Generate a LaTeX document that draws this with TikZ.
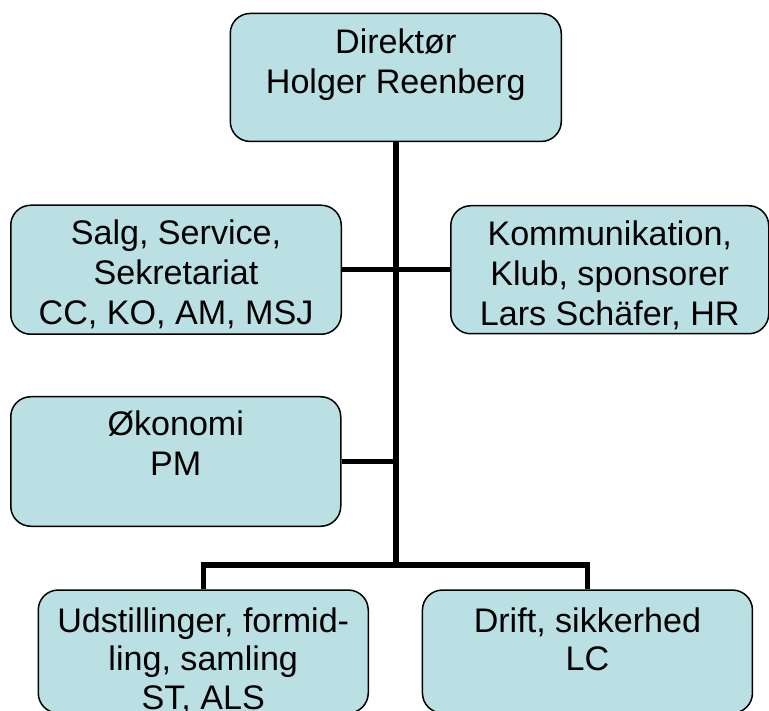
\documentclass[tikz,border=0pt]{standalone}
\usepackage{fontspec}
\setmainfont{Liberation Sans}
\usetikzlibrary{calc}
\definecolor{boxfill}{RGB}{187,224,227}
\newcommand{\orgtext}[4]{\parbox[c][#2][t]{#1}{\centering\fontsize{34.1pt}{40pt}\selectfont\rule{0pt}{#3}#4}}
\newcommand{\orgtextb}[4]{\parbox[c][#2][t]{#1}{\centering\fontsize{34.1pt}{38.5pt}\selectfont\rule{0pt}{#3}#4}}
\tikzset{
  orgbox/.style={rectangle, draw=black, line width=1.5pt, fill=boxfill, rounded corners=20pt, inner sep=0pt, anchor=north west},
  conn/.style={draw=black, line width=5.5pt, line join=miter}
}
\begin{document}
\begin{tikzpicture}[x=1pt,y=-1pt]
\useasboundingbox (0,0) rectangle (769,711);
\node[orgbox] (dir) at (229.5,12.7) {\orgtext{331pt}{128pt}{40pt}{Direktør\\Holger Reenberg}};
\node[orgbox] (salg) at (10,204.5) {\orgtext{330.5pt}{129pt}{39.5pt}{Salg, Service,\\Sekretariat\\CC, KO, AM, MSJ}};
\node[orgbox] (komm) at (450,205) {\orgtext{318pt}{128pt}{40pt}{Kommunikation,\\Klub, sponsorer\\Lars Schäfer, HR}};
\node[orgbox] (oko) at (10,396) {\orgtext{330pt}{129.5pt}{39pt}{Økonomi\\PM}};
\node[orgbox] (udst) at (37.5,589.3) {\orgtextb{330pt}{123pt}{42pt}{Udstillinger, formid-\\ling, samling\\ST, ALS}};
\node[orgbox] (drift) at (421.7,589.3) {\orgtextb{330pt}{123pt}{42pt}{Drift, sikkerhed\\LC}};
\coordinate (jb) at (dir.south |- 0,565);
\draw[conn] (dir.south) -- ([yshift=-2.75pt]jb);
\draw[conn] (salg.east) -- (komm.west);
\draw[conn] (oko.east) -- (oko.east -| dir.south);
\draw[conn] (udst.north) |- (jb) -| (drift.north);
\end{tikzpicture}
\end{document}
